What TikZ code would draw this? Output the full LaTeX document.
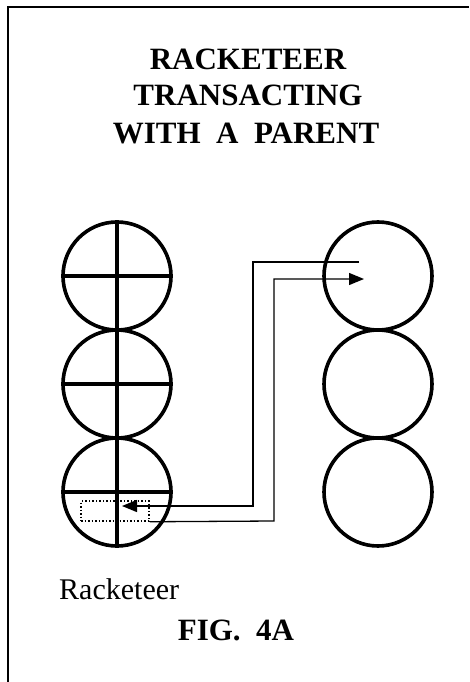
\documentclass[tikz,border=0pt]{standalone}
\usepackage{fontspec}
\setmainfont{Liberation Serif}
\usetikzlibrary{arrows.meta}
\begin{document}
\begin{tikzpicture}[x=1pt,y=-1pt,
  ring/.style={draw,circle,line width=3.6pt,minimum size=108pt,inner sep=0pt},
  crossline/.style={line width=3.2pt},
  frameline/.style={line width=2pt},
  wire/.style={line width=1.3pt},
  tip/.style={-{Triangle[length=15pt,width=12pt]}},
  titletext/.style={font=\fontsize{31}{37}\selectfont\bfseries,anchor=base,inner sep=0pt},
  plaintext/.style={font=\fontsize{30}{36}\selectfont,anchor=base west,inner sep=0pt},
  dotbox/.style={draw,dotted,line width=1.5pt,minimum width=68pt,minimum height=20pt,inner sep=0pt}
]
\useasboundingbox (0,0) rectangle (469,682);
% frame
\coordinate (fb) at (8,682);
\coordinate (ftl) at (8,7);
\coordinate (ftr) at (469,7);
\draw[frameline] (fb) -- (ftl) -- (ftr);
% title
\node[titletext] (t1) at (248,70) {RACKETEER};
\node[titletext] (t2) at (248,106) {TRANSACTING};
\node[titletext] (t3) at (246,143) {WITH~~A~~PARENT};
% left column
\node[ring] (L1) at (117,276) {};
\node[ring] (L2) at (117,384) {};
\node[ring] (L3) at (117,492) {};
\draw[crossline] (L1.north) -- (L3.south);
\draw[crossline] (L1.west) -- (L1.east);
\draw[crossline] (L2.west) -- (L2.east);
\draw[crossline] (L3.west) -- (L3.east);
% right column
\node[ring] (R1) at (378,276) {};
\node[ring] (R2) at (378,384) {};
\node[ring] (R3) at (378,492) {};
% dotted box
\node[dotbox] (db) at (115,511) {};
% connectors
\coordinate (aS) at (359,262);
\coordinate (aE) at (122,506);
\coordinate (bE) at (364,279);
\draw[wire,tip] (aS) -- (253,262) -- (253,506) -- (aE);
\draw[wire,tip] (db.south east) -- (274,521) -- (274,279) -- (bE);
% labels
\node[plaintext] (rk) at (59,599) {Racketeer};
\node[titletext] (fig) at (236,640) {FIG.~~4A};
\end{tikzpicture}
\end{document}
